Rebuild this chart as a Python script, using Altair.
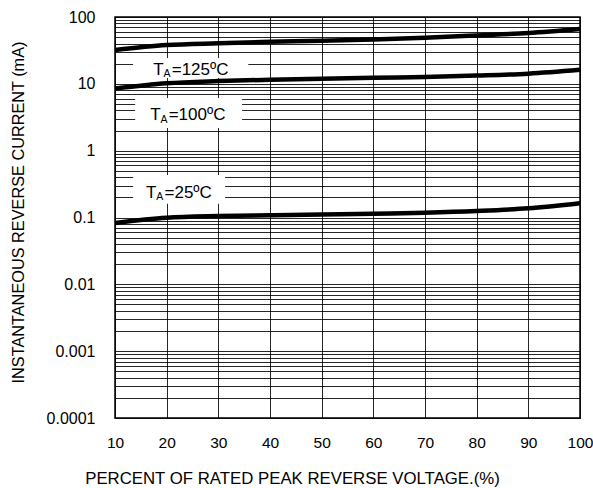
import altair as alt
import pandas as pd

# ---- data ----
x_pct = [10, 20, 30, 40, 50, 60, 70, 80, 90, 100]
i_125 = [32, 38, 40.5, 42.5, 44, 46, 49, 53, 57.5, 66]
i_100 = [8.5, 10.2, 11.0, 11.5, 11.9, 12.3, 12.7, 13.3, 14.2, 16.2]
i_25 = [0.083, 0.099, 0.105, 0.108, 0.111, 0.114, 0.118, 0.125, 0.137, 0.163]
series_names = ["125", "100", "25"]

y_decades = [0.0001, 0.001, 0.01, 0.1, 1, 10, 100]
y_labels = ["0.0001", "0.001", "0.01", "0.1", "1", "10", "100"]
x_ticks = [10, 20, 30, 40, 50, 60, 70, 80, 90, 100]

# annotation labels (T_A=...) and their white backgrounds, in data units
label_main = ["T", "T", "T"]
label_sub = ["A", "A", "A"]
label_rest = ["=125ºC", "=100ºC", "=25ºC"]
label_x = [17.4, 16.8, 16.0]
label_y = [13.6, 2.86, 0.197]
box_x1 = [13.5, 13.9, 13.5]
box_x2 = [35.8, 34.6, 31.3]
box_y1 = [12.2, 2.18, 0.160]
box_y2 = [24.4, 6.12, 0.434]

# ---- tables ----
rows = []
for name, vals in zip(series_names, [i_125, i_100, i_25]):
    for x, v in zip(x_pct, vals):
        rows.append({"series": name, "x": x, "I": v})
curves = pd.DataFrame(rows)

labels = pd.DataFrame({
    "x": label_x, "I": label_y, "main": label_main, "sub": label_sub, "rest": label_rest,
    "bx1": box_x1, "bx2": box_x2, "by1": box_y1, "by2": box_y2,
})

minor_vals = [float(f"{m}e{k}") for k in range(-4, 2) for m in range(1, 10)] + [100.0]
label_expr = " : ".join(
    [f"datum.value == {float(v)!r} ? '{t}'" for v, t in zip(y_decades, y_labels)]
) + " : ''"

FONT = "Liberation Sans"

xscale = alt.Scale(domain=[10, 100], nice=False, zero=False)
yscale = alt.Scale(type="log", domain=[0.0001, 100], nice=False)

xaxis = alt.Axis(
    values=x_ticks, title="PERCENT OF RATED PEAK REVERSE VOLTAGE.(%)",
    grid=True, gridColor="#000000", gridWidth=1, gridOpacity=0.85,
    ticks=False, domain=False, labelFontSize=15.5, labelPadding=17,
    labelFontWeight="normal",
    labelColor="#000000", titleFontSize=16.8, titleFontWeight="normal",
    titleColor="#000000", titleX=177, titleY=60, titleAlign="center",
    titleBaseline="middle", labelFlush=False,
)
yaxis = alt.Axis(
    values=minor_vals, labelExpr=label_expr,
    title="INSTANTANEOUS REVERSE CURRENT (mA)",
    grid=True, gridColor="#000000", gridWidth=1, gridOpacity=0.85,
    ticks=False, domain=False, labelFontSize=16, labelPadding=20,
    labelFontWeight="normal",
    labelColor="#000000", labelBaseline="middle", labelFlush=False,
    labelOverlap=False, labelBound=False,
    titleFontSize=16.3, titleFontWeight="normal", titleColor="#000000",
    titleX=-97, titleY=195, titleAngle=270, titleAlign="center",
    titleBaseline="middle",
)

lines = alt.Chart(curves).mark_line(
    color="#000000", strokeWidth=4.5, interpolate="monotone"
).encode(
    x=alt.X("x:Q", scale=xscale, axis=xaxis),
    y=alt.Y("I:Q", scale=yscale, axis=yaxis),
    detail="series:N",
)

boxes = alt.Chart(labels).mark_rect(color="#ffffff", opacity=1).encode(
    x=alt.X("bx1:Q", scale=xscale, axis=xaxis),
    x2="bx2:Q",
    y=alt.Y("by1:Q", scale=yscale, axis=yaxis),
    y2="by2:Q",
)

def text_layer(field, size, dx=0, dy=0):
    return alt.Chart(labels).mark_text(
        align="left", baseline="alphabetic", fontSize=size, font=FONT,
        color="#000000", dx=dx, dy=dy,
    ).encode(
        x=alt.X("x:Q", scale=xscale, axis=xaxis),
        y=alt.Y("I:Q", scale=yscale, axis=yaxis),
        text=f"{field}:N",
    )

txt_main = text_layer("main", 17)
txt_sub = text_layer("sub", 10.5, dx=10.3, dy=2.5)
txt_rest = text_layer("rest", 17, dx=18.5)

chart = alt.layer(lines, boxes, txt_main, txt_sub, txt_rest).properties(
    width=465, height=401,
    autosize=alt.AutoSizeParams(type="none"),
    padding={"left": 115, "top": 17, "right": 13, "bottom": 70},
    background="#ffffff",
).configure(font=FONT).configure_view(
    stroke="#000000", strokeWidth=1.5
)

chart.save("out.html", embed_options={"renderer": "svg", "actions": False})
